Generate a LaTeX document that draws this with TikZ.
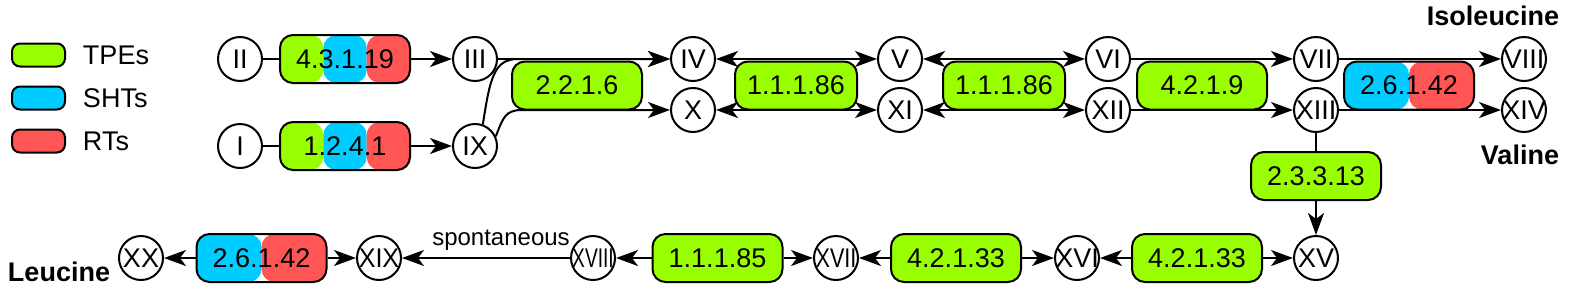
\documentclass[tikz,border=0pt]{standalone}
\usepackage{fontspec}
\setmainfont{Liberation Sans}
\usetikzlibrary{arrows.meta,calc}
\definecolor{tpe}{RGB}{153,255,0}
\definecolor{sht}{RGB}{0,204,255}
\definecolor{rtc}{RGB}{255,85,85}
\newcommand{\rnum}[1]{\makebox[0pt]{#1}}
\begin{document}
\begin{tikzpicture}[x=0.5pt,y=-0.5pt,line width=1pt,
  font=\fontsize{13.5}{16}\selectfont,
  arr/.style={-{Stealth[length=11pt,width=8pt,inset=3pt]}},
  darr/.style={{Stealth[length=11pt,width=8pt,inset=3pt]}-{Stealth[length=11pt,width=8pt,inset=3pt]}},
  rn/.style={circle,draw,fill=white,minimum size=22pt,inner sep=0pt},
  enz/.style={draw,rounded corners=6.5pt,minimum width=65pt,minimum height=24pt,inner sep=0pt},
  tpebox/.style={enz,fill=tpe},
  tri/.style={enz,path picture={
    \path (path picture bounding box.south west) coordinate (pp1)
          (path picture bounding box.north east) coordinate (pp2);
    \fill[tpe] let \p1=(pp1),\p2=(pp2) in (\p1) rectangle ({\x1+(\x2-\x1)/3},\y2);
    \fill[sht] let \p1=(pp1),\p2=(pp2) in ({\x1+(\x2-\x1)/3},\y1) rectangle ({\x1+2*(\x2-\x1)/3},\y2);
    \fill[rtc] let \p1=(pp1),\p2=(pp2) in ({\x1+2*(\x2-\x1)/3},\y1) rectangle (\p2);
  }},
  half/.style={enz,path picture={
    \path (path picture bounding box.south west) coordinate (pp1)
          (path picture bounding box.north east) coordinate (pp2);
    \fill[sht] let \p1=(pp1),\p2=(pp2) in (\p1) rectangle ({(\x1+\x2)/2},\y2);
    \fill[rtc] let \p1=(pp1),\p2=(pp2) in ({(\x1+\x2)/2},\y1) rectangle (\p2);
  }},
  legbox/.style={draw,rounded corners=4pt,minimum width=26.5pt,minimum height=11.5pt,inner sep=0pt},
  legtxt/.style={anchor=west,inner sep=0pt},
  amino/.style={inner sep=0pt,font=\fontsize{13.5}{16}\selectfont\bfseries}
]
\useasboundingbox (0,0) rectangle (1569,295);

% legend
\node[legbox,fill=tpe] (lg1) at (38.5,55) {};
\node[legbox,fill=sht] (lg2) at (38.5,98) {};
\node[legbox,fill=rtc] (lg3) at (38.5,141) {};
\node[legtxt] (lt1) at (82,55) {TPEs};
\node[legtxt] (lt2) at (82,98) {SHTs};
\node[legtxt] (lt3) at (82,141) {RTs};

% circles
\node[rn] (II)   at (240,59)  {\rnum{II}};
\node[rn] (I)    at (240,146) {\rnum{I}};
\node[rn] (III)  at (475,59)  {\rnum{III}};
\node[rn] (IX)   at (475,146) {\rnum{IX}};
\node[rn] (IV)   at (693,59)  {\rnum{IV}};
\node[rn] (X)    at (693,110) {\rnum{X}};
\node[rn] (V)    at (900,59)  {\rnum{V}};
\node[rn] (XI)   at (900,110) {\rnum{XI}};
\node[rn] (VI)   at (1108,59) {\rnum{VI}};
\node[rn] (XII)  at (1108,110){\rnum{XII}};
\node[rn] (VII)  at (1316,59) {\rnum{VII}};
\node[rn] (XIII) at (1316,110){\rnum{XIII}};
\node[rn] (VIII) at (1524,59) {\rnum{VIII}};
\node[rn] (XIV)  at (1524,110){\rnum{XIV}};
\node[rn] (XV)   at (1316,258){\rnum{XV}};
\node[rn] (XVI)  at (1077,258){\rnum{XVI}};
\node[rn] (XVII) at (836,258) {\rnum{\scalebox{0.8}[1]{XVII}}};
\node[rn] (XVIII) at (593,258){\rnum{\scalebox{0.71}[1]{XVIII}}};
\node[rn] (XIX)  at (379,258) {\rnum{\scalebox{0.93}[1]{XIX}}};
\node[rn] (XX)   at (141,258) {\rnum{XX}};

% enzymes
\node[tri] (e4319) at (345,59) {4.3.1.19};
\node[tri] (e1241) at (345,146) {1.2.4.1};
\node[tpebox] (e2216) at (577,85.5) {2.2.1.6};
\node[tpebox,minimum width=61pt] (e11186a) at (796,85.5) {1.1.1.86};
\node[tpebox,minimum width=61pt] (e11186b) at (1004,85.5) {1.1.1.86};
\node[tpebox] (e4219) at (1202,85.5) {4.2.1.9};
\node[half] (e26142a) at (1409,85.5) {2.6.1.42};
\node[tpebox] (e23313) at (1316,176) {2.3.3.13};
\node[tpebox] (e42133a) at (1197,258) {4.2.1.33};
\node[tpebox] (e42133b) at (956,258) {4.2.1.33};
\node[tpebox] (e11185) at (717.5,258) {1.1.1.85};
\node[half] (e26142b) at (261.5,258) {2.6.1.42};

% amino acid labels
\node[amino,anchor=east] (ile) at (1560,16) {Isoleucine};
\node[amino,anchor=east] (val) at (1560,155) {Valine};
\node[amino,anchor=west] (leu) at (7,272) {Leucine};

% connectors
\draw (II) -- (e4319);
\draw[arr] (e4319) -- (III);
\draw (I) -- (e1241);
\draw[arr] (e1241) -- (IX);
\draw[arr] (III) -- (IV);
\draw[arr] (IX.70) .. controls (490,78) and (494,59) .. (518,59) -- (IV.west);
\draw[arr] (IX.25) .. controls (503,118) and (505,110) .. (522,110) -- (X.west);
\draw[darr] (IV) -- (V);
\draw[darr] (X) -- (XI);
\draw[darr] (V) -- (VI);
\draw[darr] (XI) -- (XII);
\draw[arr] (VI) -- (VII);
\draw[arr] (XII) -- (XIII);
\draw[arr] (VII) -- (VIII);
\draw[arr] (XIII) -- (XIV);
\draw (XIII) -- (e23313);
\draw[arr] (e23313) -- (XV);
\draw[arr] (e42133a) -- (XV);
\draw[arr] (e42133a) -- (XVI);
\draw[arr] (e42133b) -- (XVI);
\draw[arr] (e42133b) -- (XVII);
\draw[arr] (e11185) -- (XVII);
\draw[arr] (e11185) -- (XVIII);
\draw[arr] (XVIII) -- (XIX);
\node[inner sep=0pt,font=\fontsize{12}{14}\selectfont] (spon) at (501,240) {spontaneous};
\draw[arr] (e26142b) -- (XIX);
\draw[arr] (e26142b) -- (XX);
\end{tikzpicture}
\end{document}
